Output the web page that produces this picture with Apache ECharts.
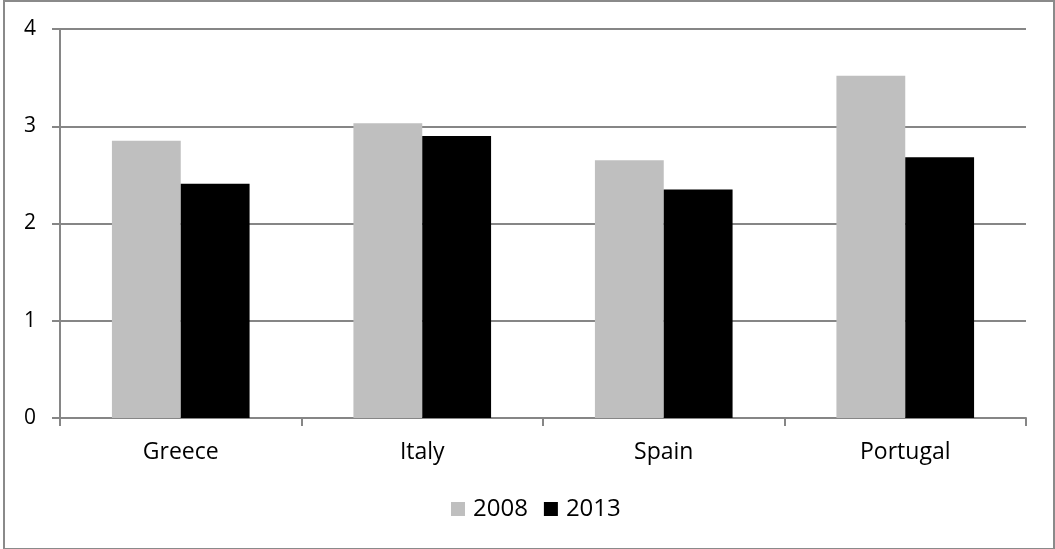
<!DOCTYPE html>
<html>
<head>
<meta charset="utf-8">
<script src="https://cdn.jsdelivr.net/npm/echarts@6/dist/echarts.min.js"></script>
<style>
    html, body { margin: 0; padding: 0; background: #fff; }
    #frame {
        position: absolute; left: 3px; top: 0; width: 1048px; height: 546px;
        border: 2px solid #8a8a8a; box-sizing: content-box;
    }
    #chart { position: absolute; left: 0; top: 0; width: 1055px; height: 549px; }
</style>
</head>
<body>
<div id="frame"></div>
<div id="chart"></div>
<script>
    // countries and values per year
    const countries = ['Greece', 'Italy', 'Spain', 'Portugal'];
    const years = ['2008', '2013'];
    const values2008 = [2.85, 3.03, 2.65, 3.52];
    const values2013 = [2.41, 2.90, 2.35, 2.68];

    const font = '"Open Sans", "DejaVu Sans", sans-serif';
    let chart = echarts.init(document.getElementById('chart'));
    let option = {
        animation: false,
        textStyle: { fontFamily: font },
        legend: {
            data: years,
            bottom: 23,
            left: 446,
            itemWidth: 14,
            itemHeight: 14,
            itemGap: 16,
            icon: 'rect',
            textStyle: { fontSize: 24, color: '#000', fontFamily: font, padding: [0, 0, 0, 3] }
        },
        grid: { left: 60, right: 29, top: 29, bottom: 131 },
        xAxis: {
            type: 'category',
            data: countries,
            axisLine: { lineStyle: { color: '#868686', width: 2 } },
            axisTick: { show: true, length: 8, lineStyle: { color: '#868686', width: 2 } },
            axisLabel: { fontSize: 23, color: '#000', margin: 23, fontFamily: font }
        },
        yAxis: {
            type: 'value',
            min: 0,
            max: 4,
            interval: 1,
            axisLine: { show: true, lineStyle: { color: '#868686', width: 2 } },
            axisTick: { show: true, length: 8, lineStyle: { color: '#868686', width: 2 } },
            splitLine: { lineStyle: { color: '#868686', width: 2 } },
            axisLabel: { fontSize: 21, color: '#000', margin: 24, fontFamily: font }
        },
        series: [
            {
                name: '2008',
                type: 'bar',
                data: values2008,
                barGap: '0%',
                barCategoryGap: '43%',
                itemStyle: { color: '#bfbfbf' }
            },
            {
                name: '2013',
                type: 'bar',
                data: values2013,
                itemStyle: { color: '#000000' }
            }
        ]
    };
    chart.setOption(option);
</script>
</body>
</html>
